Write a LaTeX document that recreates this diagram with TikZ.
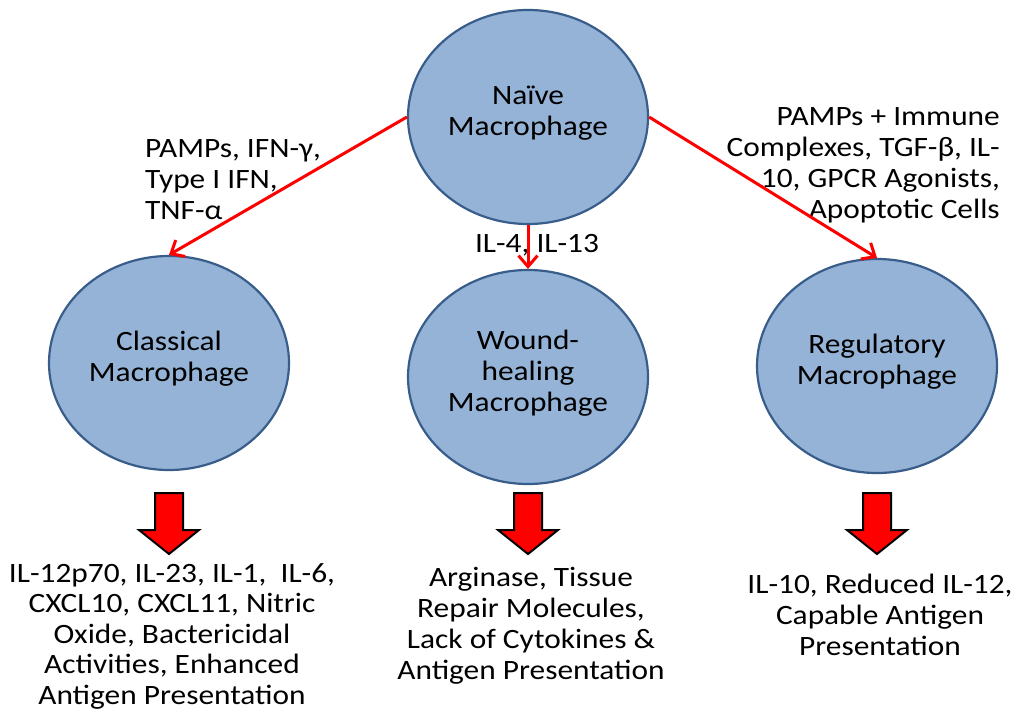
\documentclass[tikz,border=0pt]{standalone}
\usepackage{fontspec}
\setmainfont{Carlito}[FakeStretch=1.12]
\usetikzlibrary{shapes.geometric,arrows.meta}

\definecolor{cellfill}{HTML}{95B3D7}
\definecolor{celledge}{HTML}{385D8A}

\tikzset{
  cell/.style={ellipse, draw=celledge, fill=cellfill, line width=2.2pt,
    minimum width=240pt, minimum height=214pt, inner sep=0pt, align=center,
    text depth=13pt},
  signal/.style={draw=red, line width=3pt, -{Straight Barb[length=11pt,width=19pt]}},
  outarrow/.style={draw=black, fill=red, line width=2pt, line join=miter},
  txt/.style={inner sep=0pt},
}

\begin{document}
\begin{tikzpicture}[x=1pt, y=-1pt, font=\fontsize{28}{31}\selectfont]
  \useasboundingbox (0,0) rectangle (1017,712);

  % macrophage types
  \node[cell] (naive) at (528,117) {Naïve\\Macrophage};
  \node[cell] (classical) at (169,363) {Classical\\Macrophage};
  \node[cell] (wound) at (528,377) {Wound-\\healing\\Macrophage};
  \node[cell] (regulatory) at (877,366) {Regulatory\\Macrophage};

  % stimuli
  \node[txt, anchor=west, align=left] (stimclassical) at (145,180)
    {PAMPs, IFN-γ,\\Type I IFN,\\TNF-α};
  \node[txt] (stimwound) at (537,245) {IL-4, IL-13};
  \node[txt, anchor=east, align=right] (stimregulatory) at (1000,165)
    {PAMPs + Immune\\Complexes, TGF-β, IL-\\10, GPCR Agonists,\\Apoptotic Cells};

  \draw[signal] (naive.west) -- (classical.north);
  \draw[signal] (naive.south) -- (wound.north);
  \draw[signal] (naive.east) -- (regulatory.north);

  % products
  \foreach \x in {169,528,877}
    \draw[outarrow] (\x-14,493) -- (\x+14,493) -- (\x+14,530) -- (\x+30,530)
      -- (\x,554) -- (\x-30,530) -- (\x-14,530) -- cycle;

  \node[txt, align=center, font=\fontsize{28}{30.5}\selectfont] (outclassical) at (172,636)
    {IL-12p70, IL-23, IL-1,\ \ IL-6,\\CXCL10, CXCL11, Nitric\\Oxide, Bactericidal\\Activities, Enhanced\\Antigen Presentation};
  \node[txt, align=center] (outwound) at (531,626)
    {Arginase, Tissue\\Repair Molecules,\\Lack of Cytokines \&\\Antigen Presentation};
  \node[txt, align=center] (outregulatory) at (880,615)
    {IL-10, Reduced IL-12,\\Capable Antigen\\Presentation};
\end{tikzpicture}
\end{document}
